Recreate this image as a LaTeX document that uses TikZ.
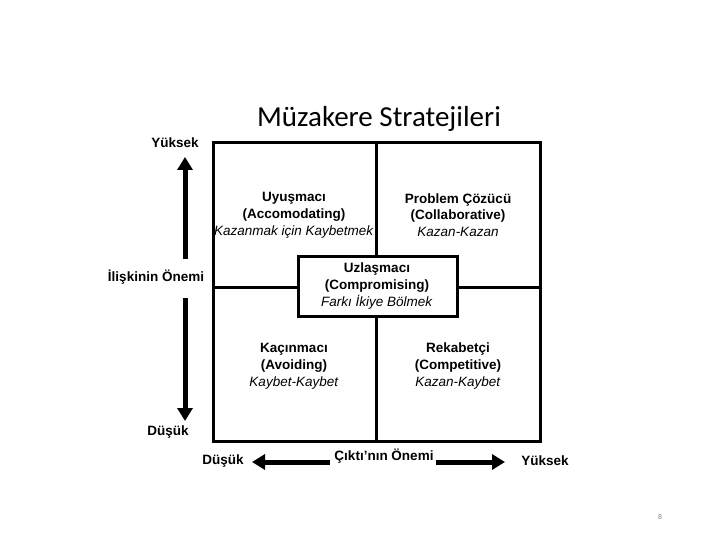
\documentclass[tikz,border=0pt]{standalone}
\usepackage{fontspec}
\setmainfont{Liberation Sans}
\newfontfamily\titlefont{Carlito}
\usetikzlibrary{arrows.meta}
\tikzset{
  frame/.style={line width=3pt},
  lbl/.style={font=\fontsize{13.5}{16.5}\selectfont\bfseries, inner sep=0pt},
  quad/.style={align=center, font=\fontsize{13.5}{16.8}\selectfont, inner sep=0pt},
  bigarrow/.style={line width=5pt, -{Triangle[length=13pt,width=15pt]}},
}
\begin{document}
\begin{tikzpicture}[x=1pt,y=-1pt]
\useasboundingbox (0,0) rectangle (720,540);
% title
\node[font=\titlefont\fontsize{29}{31}\selectfont, inner sep=0pt] (title) at (379,119) {Müzakere Stratejileri};
% grid
\coordinate (tl) at (213,143);
\coordinate (br) at (540,441);
\draw[frame] (tl) rectangle (br);
\draw[frame] (376,143) -- (376,441);
\draw[frame] (213,287) -- (540,287);
% quadrant texts
\node[quad] (ul) at (294,215) {\textbf{Uyuşmacı}\\\textbf{(Accomodating)}\\\textit{Kazanmak için Kaybetmek}};
\node[quad] (ur) at (458,215) {\textbf{Problem Çözücü}\\\textbf{(Collaborative)}\\\textit{Kazan-Kazan}};
\node[quad] (ll) at (294,366) {\textbf{Kaçınmacı}\\\textbf{(Avoiding)}\\\textit{Kaybet-Kaybet}};
\node[quad] (lr) at (458,366) {\textbf{Rekabetçi}\\\textbf{(Competitive)}\\\textit{Kazan-Kaybet}};
% middle box
\draw[frame, fill=white] (298,256) rectangle (457,316);
\node[quad] (mid) at (377,286) {\textbf{Uzlaşmacı}\\\textbf{(Compromising)}\\\textit{Farkı İkiye Bölmek}};
% vertical axis
\node[lbl] (yhigh) at (175,143) {Yüksek};
\node[lbl] (vaxis) at (156,277) {İlişkinin Önemi};
\node[lbl] (ylow) at (168,432) {Düşük};
\coordinate (vup0) at (185,259);
\coordinate (vup1) at (185,157);
\coordinate (vdn0) at (185,298);
\coordinate (vdn1) at (185,421);
\draw[bigarrow] (vup0) -- (vup1);
\draw[bigarrow] (vdn0) -- (vdn1);
% horizontal axis
\node[lbl] (xlow) at (223,461) {Düşük};
\node[lbl] (haxis) at (384,456) {Çıktı'nın Önemi};
\node[lbl] (xhigh) at (545,461) {Yüksek};
\coordinate (hl0) at (330,462);
\coordinate (hl1) at (252,462);
\coordinate (hr0) at (436,462);
\coordinate (hr1) at (505,462);
\draw[bigarrow] (hl0) -- (hl1);
\draw[bigarrow] (hr0) -- (hr1);
% page number
\node[font=\fontsize{7}{8}\selectfont, text=gray, inner sep=0pt] (pg) at (660,517) {8};
\end{tikzpicture}
\end{document}
